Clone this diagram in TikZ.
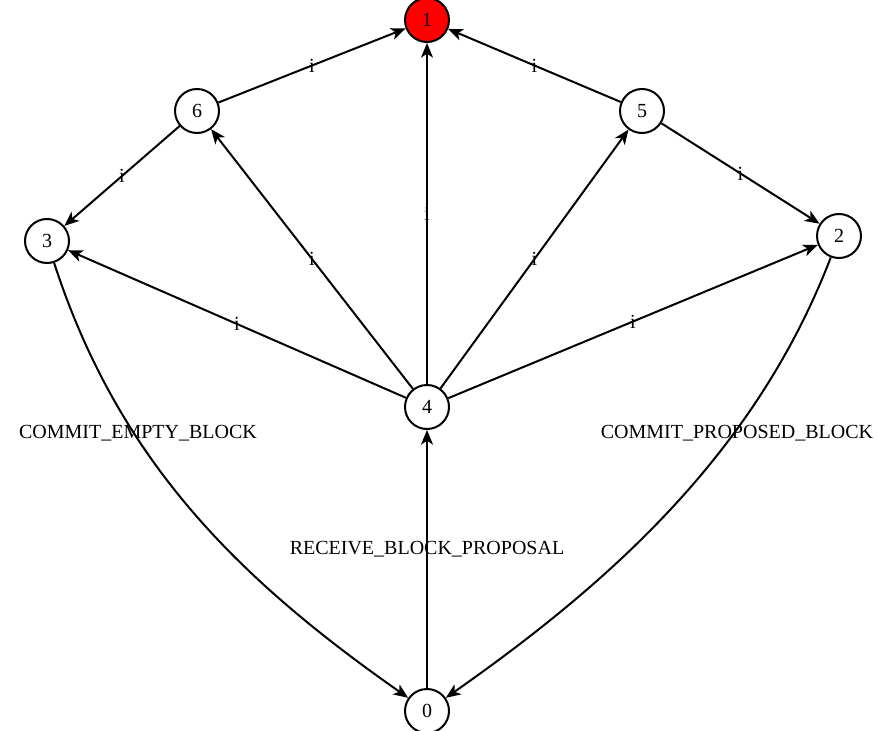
\documentclass[tikz,border=0pt]{standalone}
\usepackage{fontspec}
\setmainfont{Liberation Serif}
\usetikzlibrary{arrows.meta}
\tikzset{st/.style={draw,circle,line width=1.5pt,minimum size=33pt,inner sep=0pt,fill=white,font=\fontsize{15}{17}\selectfont},
 arr/.style={-{Stealth[length=11pt,width=9pt,inset=3pt]},line width=1.5pt},
 lab/.style={inner sep=0pt,font=\fontsize{15}{17}\selectfont},
 note/.style={inner sep=0pt,font=\fontsize{15}{17}\selectfont}}

\begin{document}
\begin{tikzpicture}[x=0.75pt,y=-0.75pt]
\useasboundingbox (0,0) rectangle (879,731);
\node[st,fill=red] (n1) at (427,20) {1};
\node[st] (n6) at (197,111) {6};
\node[st] (n5) at (642,111) {5};
\node[st] (n3) at (47,241) {3};
\node[st] (n2) at (839,236) {2};
\node[st] (n4) at (427,407) {4};
\node[st] (n0) at (427,711) {0};
\node[note] (lempty) at (138,433) {COMMIT\_EMPTY\_BLOCK};
\node[note] (lprop) at (737,433) {COMMIT\_PROPOSED\_BLOCK};
\draw[arr] (n6)--node[lab]{i}(n1);
\draw[arr] (n5)--node[lab]{i}(n1);
\draw[arr] (n4)--node[lab]{i}(n1);
\draw[arr] (n6)--node[lab]{i}(n3);
\draw[arr] (n5)--node[lab]{i}(n2);
\draw[arr] (n4)--node[lab]{i}(n6);
\draw[arr] (n4)--node[lab]{i}(n5);
\draw[arr] (n4)--node[lab]{i}(n3);
\draw[arr] (n4)--node[lab]{i}(n2);
\draw[arr] (n0)--node[note,pos=0.54]{RECEIVE\_BLOCK\_PROPOSAL}(n4);
\draw[arr] (n3) to[out=-72,in=145,looseness=0.95] (n0);
\draw[arr] (n2) to[out=-111,in=35,looseness=0.9] (n0);
\end{tikzpicture}
\end{document}
